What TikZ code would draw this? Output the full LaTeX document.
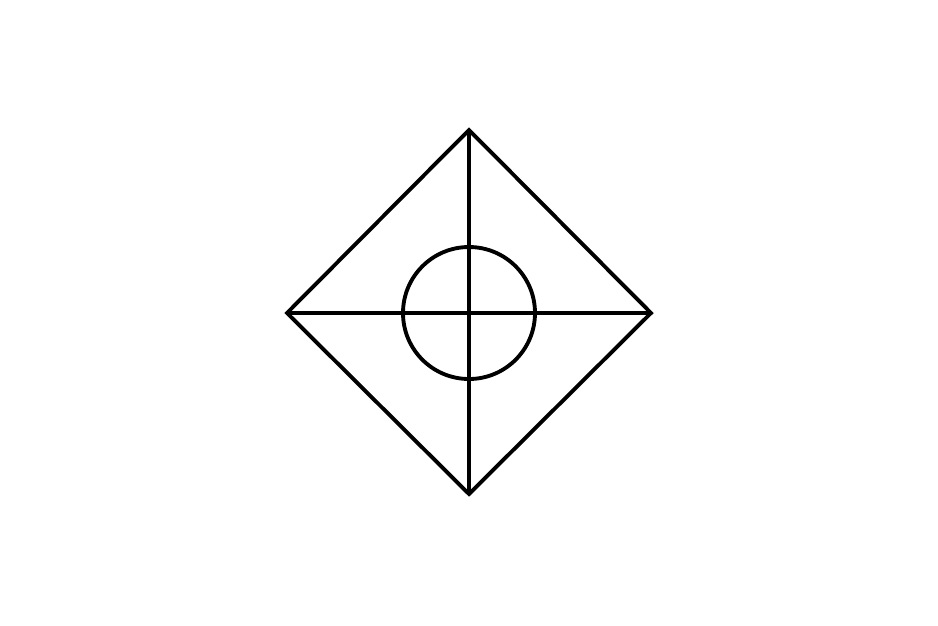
\documentclass[tikz,border=0pt]{standalone}
\usepackage{tikz}
\usetikzlibrary{positioning,calc}

\begin{document}
\begin{tikzpicture}[
    edge/.style={line width=1.1pt, line join=miter},
    ring/.style={draw, circle, line width=1.1pt, minimum size=1.32cm, inner sep=0pt}
]
\useasboundingbox (0,0) rectangle (9.38,6.25);

% corners of the diamond
\coordinate (C) at (4.69,3.12);
\coordinate (top) at (4.69,4.95);
\coordinate (right) at (6.51,3.12);
\coordinate (bottom) at (4.69,1.31);
\coordinate (left) at (2.87,3.12);

% outline
\draw[edge] (top) -- (right) -- (bottom) -- (left) -- cycle;

% diagonals
\draw[edge] (top) -- (bottom);
\draw[edge] (left) -- (right);

% centre ring
\node[ring] (hub) at (C) {};

\end{tikzpicture}
\end{document}
